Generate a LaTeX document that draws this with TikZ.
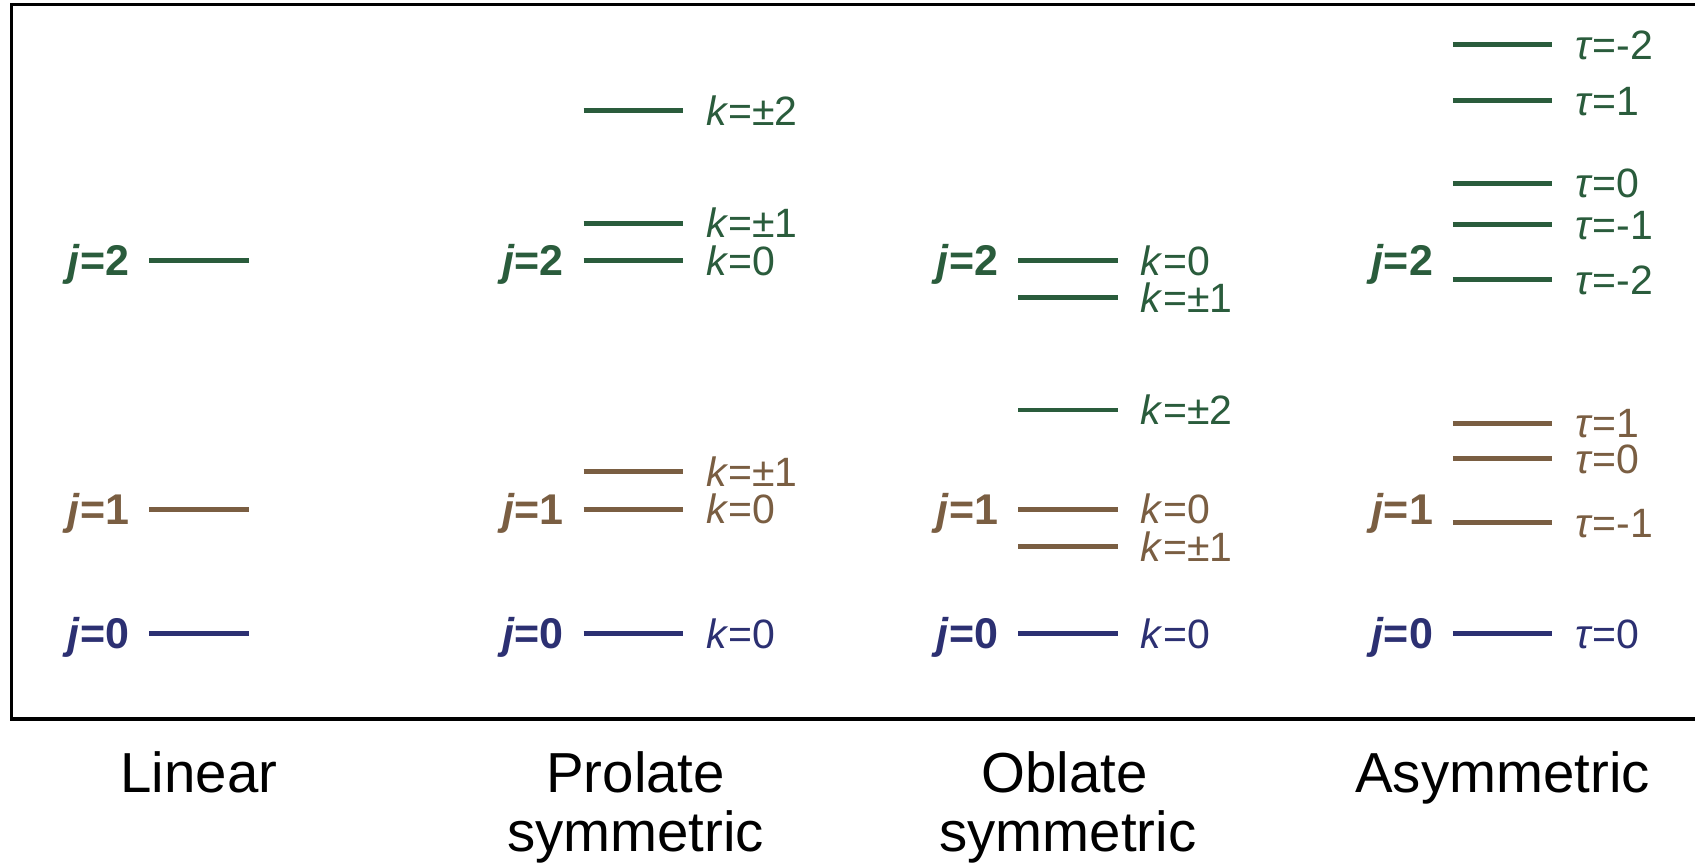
\documentclass[tikz,border=0pt]{standalone}
\usepackage{fontspec}
\setmainfont{Liberation Sans}
\definecolor{lgreen}{RGB}{42,92,60}
\definecolor{lbrown}{RGB}{122,94,66}
\definecolor{lblue}{RGB}{44,48,114}
\newcommand{\enlevel}[5]{%
  \draw[lvl,#3] (#1,#2) -- ++(92,0);
  \node[klab,text=#3] (#5) at (#1+113,#2+13.6) {#4};
}
\begin{document}
\begin{tikzpicture}[x=0.5405pt,y=-0.5405pt,
  lvl/.style={line width=2.4pt},
  klab/.style={anchor=base west,inner sep=0pt,font=\fontsize{20.5}{24}\selectfont},
  jlab/.style={anchor=base east,inner sep=0pt,font=\fontsize{21.5}{24}\selectfont\bfseries},
  caplab/.style={anchor=base,inner sep=0pt,font=\fontsize{28.2}{30}\selectfont}]
\useasboundingbox (0,0) rectangle (1568,801);
\fill[white] (0,0) rectangle (1568,801);
\draw[line width=1.7pt,line cap=rect] (1580,4.3) -- (10.6,4.3) -- (10.6,665.2) -- (1580,665.2);

% j labels
\foreach \x/\c in {0/a,1/b,2/c,3/d}{
  \node[jlab,text=lgreen] (j2\c) at (138+402*\x-18,241+14.2) {\textit{j}=2};
  \node[jlab,text=lbrown] (j1\c) at (138+402*\x-18,471+14.2) {\textit{j}=1};
  \node[jlab,text=lblue]  (j0\c) at (138+402*\x-18,586+14.2) {\textit{j}=0};
}

% Linear
\draw[lvl,lgreen] (138,241) -- ++(92,0);
\draw[lvl,lbrown] (138,471) -- ++(92,0);
\draw[lvl,lblue]  (138,586) -- ++(92,0);

% Prolate
\enlevel{540}{102.5}{lgreen}{\textit{k}=±2}{pk2}
\enlevel{540}{206.5}{lgreen}{\textit{k}=±1}{pk1}
\enlevel{540}{241}{lgreen}{\textit{k}=0}{pk0}
\enlevel{540}{436.5}{lbrown}{\textit{k}=±1}{pb1}
\enlevel{540}{471}{lbrown}{\textit{k}=0}{pb0}
\enlevel{540}{586}{lblue}{\textit{k}=0}{pz0}

% Oblate
\enlevel{942}{241}{lgreen}{\textit{k}=0}{ok0}
\enlevel{942}{275.4}{lgreen}{\textit{k}=±1}{ok1}
\enlevel{942}{379.3}{lgreen}{\textit{k}=±2}{ok2}
\enlevel{942}{471}{lbrown}{\textit{k}=0}{ob0}
\enlevel{942}{505.7}{lbrown}{\textit{k}=±1}{ob1}
\enlevel{942}{586}{lblue}{\textit{k}=0}{oz0}

% Asymmetric
\enlevel{1344}{41.5}{lgreen}{\textit{τ}=-2}{ag1}
\enlevel{1344}{93}{lgreen}{\textit{τ}=1}{ag2}
\enlevel{1344}{169.5}{lgreen}{\textit{τ}=0}{ag3}
\enlevel{1344}{208}{lgreen}{\textit{τ}=-1}{ag4}
\enlevel{1344}{258.5}{lgreen}{\textit{τ}=-2}{ag5}
\enlevel{1344}{391.5}{lbrown}{\textit{τ}=1}{ab1}
\enlevel{1344}{424.5}{lbrown}{\textit{τ}=0}{ab2}
\enlevel{1344}{483.5}{lbrown}{\textit{τ}=-1}{ab3}
\enlevel{1344}{586}{lblue}{\textit{τ}=0}{az0}

% captions
\node[caplab] (linear) at (184,733) {Linear};
\node[caplab] (prol1) at (588,733) {Prolate};
\node[caplab] (prol2) at (588,788) {symmetric};
\node[caplab] (obl1) at (985,733) {Oblate};
\node[caplab] (obl2) at (988,788) {symmetric};
\node[caplab] (asym) at (1390,733) {Asymmetric};
\end{tikzpicture}
\end{document}
